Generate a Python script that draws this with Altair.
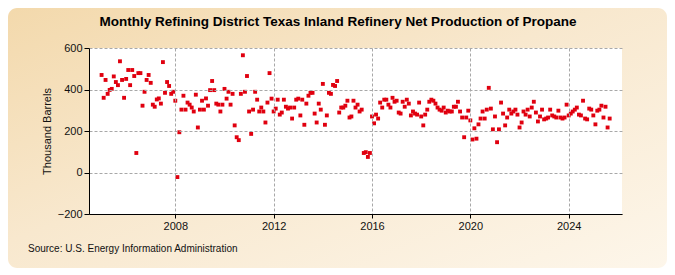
import altair as alt
import pandas as pd

# Monthly values, Jan 2005 onward (thousand barrels)
values_2005_2008 = [470, 360, 446, 379, 398, 403, 463, 436, 421, 536, 446, 360,
                    451, 494, 421, 494, 465, 94, 479, 479, 322, 389, 446, 470,
                    432, 327, 317, 352, 357, 332, 532, 384, 436, 417, 379, 389,
                    346, -22, 194, 303, 370, 303, 337, 327, 313, 294, 375,
                    217, 303, 346, 303, 357, 322, 397, 441, 397, 332, 327, 294, 327]
values_2010_2013 = [403, 356, 389, 327, 379, 227, 170, 156, 379, 565, 389, 465,
                    294, 186, 303, 389, 351, 294, 313, 294, 241, 337, 479, 356,
                    294, 308, 351, 279, 289, 351, 317, 308, 313, 260, 313, 351,
                    356, 275, 351]
values_2013_2017 = [230, 332, 370, 384, 384, 284, 241, 332, 303, 427, 230, 275,
                    384, 379, 422, 417, 441, 289, 313, 313, 322, 346, 265, 270,
                    346, 313, 327, 294, 303, 94, 98, 75, 94, 270, 237, 279,
                    260, 337, 313, 351, 351, 327, 313, 360, 341, 346, 289, 284,
                    341, 317, 351]
values_2017_2021 = [332, 275, 294, 284, 279, 337, 270, 227, 279, 303, 341, 351,
                    346, 332, 313, 303, 298, 313, 289, 298, 294, 294, 317, 317,
                    341, 294, 265, 170, 265, 298, 251, 159, 213, 163, 232, 260,
                    294, 260, 303, 408, 308, 208, 270, 146, 208, 337, 284, 227,
                    265, 303, 284, 294]
values_2021_2025 = [303, 279, 217, 241, 294, 279, 303, 270, 313, 341, 289, 246,
                    270, 303, 256, 260, 265, 303, 275, 270, 265, 298, 265, 260,
                    265, 327, 275, 284, 294, 303, 313, 279, 275, 346, 260, 256,
                    308, 303, 275, 232, 298, 303, 322, 265, 317, 217, 260]

values = values_2005_2008 + values_2010_2013 + values_2013_2017 + values_2017_2021 + values_2021_2025
dates = pd.date_range("2005-01-01", periods=len(values), freq="MS").strftime("%Y-%m-%d").tolist()

title_text = "Monthly Refining District Texas Inland Refinery Net Production of Propane"
y_title = "Thousand Barrels"
source_text = "Source: U.S. Energy Information Administration"
y_ticks = [-200, 0, 200, 400, 600]
x_tick_years = [2008, 2012, 2016, 2020, 2024]

W, H = 533, 166
PAD = {"left": 81, "top": 40, "right": 45, "bottom": 54}

df = pd.DataFrame({"date": dates, "value": values})
src_df = pd.DataFrame({"t": [source_text]})
title_df = pd.DataFrame({"t": [title_text]})
one = pd.DataFrame({"k": [0]})

FONT = "Liberation Sans, Arial, sans-serif"

# decorative panel background (gradient) and white plotting area
panel = alt.Chart(one).mark_rect(
    cornerRadius=9,
    color=alt.LinearGradient(
        gradient="linear", x1=0, y1=0, x2=1, y2=1,
        stops=[alt.GradientStop(color="#F3D9AC", offset=0),
               alt.GradientStop(color="#F8E8CE", offset=0.45),
               alt.GradientStop(color="#FDF6EA", offset=1)],
    ),
).encode(
    x=alt.value(-PAD["left"]), x2=alt.value(W + PAD["right"]),
    y=alt.value(-PAD["top"]), y2=alt.value(H + PAD["bottom"]),
)
plot_bg = alt.Chart(one).mark_rect(color="white").encode(
    x=alt.value(0), x2=alt.value(W), y=alt.value(0), y2=alt.value(H)
)

points = alt.Chart(df).mark_square(size=15, color="#E0000F", opacity=1).encode(
    x=alt.X(
        "date:T",
        scale=alt.Scale(
            type="utc",
            domain=[alt.DateTime(year=2004, month=6, date=28, utc=True),
                    alt.DateTime(year=2026, month=3, date=3, utc=True)],
        ),
        axis=alt.Axis(
            values=[alt.DateTime(year=y, month=1, date=1, utc=True) for y in x_tick_years],
            format="%Y",
            title=None,
            tickSize=4,
            labelPadding=2,
            zindex=1,
        ),
    ),
    y=alt.Y(
        "value:Q",
        scale=alt.Scale(domain=[-200, 600], nice=False, zero=False),
        axis=alt.Axis(
            values=y_ticks,
            title=y_title,
            titleX=-42,
            titleY=83,
            titleAngle=270,
            titleBaseline="middle",
            titleAlign="center",
            tickSize=5,
            labelPadding=2,
            zindex=1,
        ),
    ),
)

title = alt.Chart(title_df).mark_text(
    align="center", baseline="middle", fontSize=13.5, font=FONT,
    fontWeight="bold", color="#000000"
).encode(text="t:N", x=alt.value(249), y=alt.value(-26))

source = alt.Chart(src_df).mark_text(
    align="left", baseline="middle", fontSize=10, font=FONT, color="#111111"
).encode(text="t:N", x=alt.value(-61), y=alt.value(201))

chart = alt.layer(panel, plot_bg, points, title, source).properties(
    width=W,
    height=H,
    padding=PAD,
    autosize=alt.AutoSizeParams(type="none"),
    background="#FFFFFF",
).configure_view(
    fill="white", strokeWidth=0
).configure_axis(
    grid=True,
    gridColor="#A8A8A8",
    gridDash=[3, 2],
    gridWidth=1,
    domainColor="#000000",
    domainWidth=1,
    tickColor="#000000",
    labelFont=FONT,
    labelFontSize=11,
    labelColor="#111111",
    titleFont=FONT,
    titleFontSize=11,
    titleFontWeight="normal",
    titleColor="#111111",
)

chart.save("out.html", embed_options={"renderer": "svg", "actions": False})
